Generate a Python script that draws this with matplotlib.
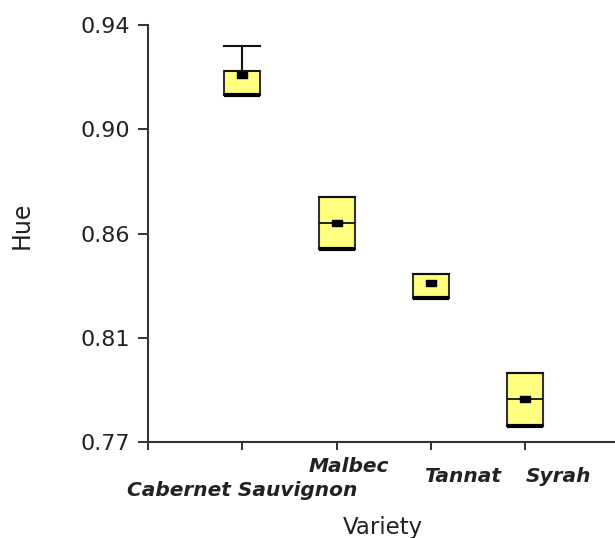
import matplotlib
matplotlib.use("Agg")
import matplotlib.pyplot as plt
from matplotlib.transforms import offset_copy

# hue by grape variety
varieties = ["Cabernet Sauvignon", "Malbec", "Tannat", "Syrah"]
q1 = [0.9113, 0.8487, 0.8286, 0.7766]
q3 = [0.9213, 0.8700, 0.8385, 0.7980]
medians = [0.9213, 0.8594, 0.8286, 0.7874]
means = [0.9196, 0.8594, 0.8347, 0.7874]
whisk_lo = [0.9113, 0.8487, 0.8286, 0.7766]
whisk_hi = [0.9314, 0.8700, 0.8385, 0.7980]

yticks = [0.77, 0.8125, 0.855, 0.8975, 0.94]
yticklabels = ["0.77", "0.81", "0.86", "0.90", "0.94"]

# category label offsets in points (right, down): staggered under the axis
label_dx = [0, 9, 23, 24]
label_dy = [35, 18, 24.5, 24.5]

ink = "#222222"
box_w = 0.38

fig = plt.figure(figsize=(6.15, 5.38), dpi=100)
ax = fig.add_axes([148 / 615, 96 / 538, 467 / 615, 417 / 538])

stats = []
for i in range(len(varieties)):
    stats.append({"q1": q1[i], "q3": q3[i], "med": medians[i], "mean": means[i],
                  "whislo": whisk_lo[i], "whishi": whisk_hi[i], "fliers": []})

positions = [1, 2, 3, 4]
rect = [(-1, -0.65), (1, -0.65), (1, 0.65), (-1, 0.65), (-1, -0.65)]
ax.bxp(stats, positions=positions, widths=box_w, capwidths=box_w,
       patch_artist=True, showmeans=True, showfliers=False,
       boxprops=dict(facecolor="#ffff80", edgecolor="#333333", linewidth=1.5),
       medianprops=dict(color="#111111", linewidth=1.3),
       whiskerprops=dict(color="#111111", linewidth=1.5),
       capprops=dict(color="#111111", linewidth=1.5),
       meanprops=dict(marker=rect, markerfacecolor="black",
                      markeredgecolor="black", markersize=7.5),
       zorder=3)
# heavier bottom edge on each box
ax.hlines(q1, [p - box_w / 2 for p in positions], [p + box_w / 2 for p in positions],
          color="black", linewidth=3, zorder=4)

ax.set_xlim(0, 467 / 94.3)
ax.set_ylim(0.77, 0.94)

ax.set_yticks(yticks)
ax.set_yticklabels(yticklabels, fontsize=16, color=ink)
ax.set_xticks([0] + positions)
ax.set_xticklabels([])

# category names drawn as text under their ticks
base = ax.get_xaxis_transform()
for pos, name, dx, dy in zip(positions, varieties, label_dx, label_dy):
    tr = offset_copy(base, fig=fig, x=dx, y=-dy, units="points")
    ax.text(pos, 0, name, transform=tr, ha="center", va="center",
            fontsize=14.5, fontweight="bold", fontstyle="italic", color=ink)

ax.tick_params(axis="y", length=7, width=1.4, color="#333333", pad=6)
ax.tick_params(axis="x", length=6, width=1.4, color="#333333")

for side in ["top", "right"]:
    ax.spines[side].set_visible(False)
for side in ["left", "bottom"]:
    ax.spines[side].set_linewidth(1.5)
    ax.spines[side].set_color("#333333")

ax.set_ylabel("Hue", fontsize=17, color=ink)
ax.yaxis.set_label_coords(-0.245, 0.52)
ax.set_xlabel("Variety", fontsize=16.5, color=ink)
ax.xaxis.set_label_coords(0.503, -0.178)

fig.savefig("out.png", dpi=100)
